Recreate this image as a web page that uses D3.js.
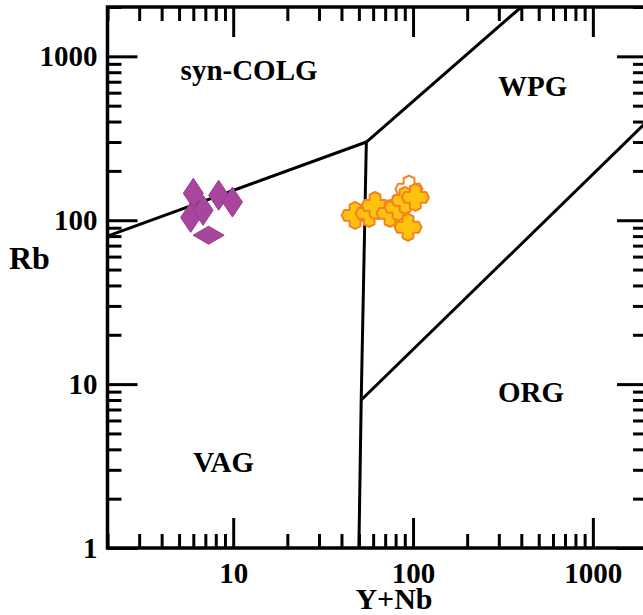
<!DOCTYPE html>
<html>
<head>
<meta charset="utf-8">
<script src="https://cdn.jsdelivr.net/npm/d3@7"></script>
<style>
  html, body { margin: 0; padding: 0; background: #fff; }
  svg { display: block; }
  text { font-family: "Liberation Serif", "Times New Roman", serif; font-weight: bold; fill: #000; }
</style>
</head>
<body>
<svg id="chart" width="643" height="615"></svg>
<script>
// Rb vs (Y+Nb) tectonic discrimination diagram (log-log)

// Axis ranges and tick labels
const xDomain = [2, 2000];
const yDomain = [1, 2000];
const xMajorTicks = [10, 100, 1000];
const yMajorTicks = [1, 10, 100, 1000];
const xTickLabels = ["10", "100", "1000"];
const yTickLabels = ["1", "10", "100", "1000"];

// Field boundaries (Y+Nb, Rb)
const boundaryVagColg = [[2, 80], [55, 300]];
const boundaryColgWpg = [[55, 300], [400, 2000]];
const boundaryVagWpg  = [[55, 300], [51.5, 8], [50, 1]];
const boundaryWpgOrg  = [[51.5, 8], [2000, 400]];

// Field names and anchor points (Y+Nb, Rb) — left end of each label's baseline
const fieldNames = ["syn-COLG", "WPG", "ORG", "VAG"];
const fieldAnchors = [[5.1, 714], [297, 570], [297, 7.8], [6.0, 2.9]];

// Sample group 1 (diamonds)
const groupA_YNb = [6.0, 5.8, 6.8, 8.3, 9.9, 7.3];
const groupA_Rb  = [146, 104, 115, 142, 129, 81];

// Sample group 2 (crosses); the first one is an open (unfilled) symbol
const groupB_YNb = [95, 47.6, 57, 61.5, 74.5, 82.6, 90.3, 103, 93.8];
const groupB_Rb  = [155, 107, 110, 123, 110, 120, 132, 138, 90.6];

const svg = d3.select("#chart");
const plotL = 107.5, plotR = 647, plotT = 7, plotB = 548;

const x = d3.scaleLog().domain(xDomain).range([plotL, plotR]);
const y = d3.scaleLog().domain(yDomain).range([plotB, plotT]);

// minor ticks: 2..9 within each decade
function minorTicks(domain) {
  const out = [];
  for (let e = 0; e <= 3; e++) {
    for (let m = 2; m <= 9; m++) {
      const v = m * Math.pow(10, e);
      if (v >= domain[0] && v <= domain[1]) out.push(v);
    }
  }
  return out;
}
const xMinor = minorTicks(xDomain);
const yMinor = minorTicks(yDomain);

const MAJ = 30, MIN = 14;
const tickStroke = 3;

function styleAxis(g) {
  g.select(".domain").remove();
  g.selectAll(".tick line").attr("stroke", "#000").attr("stroke-width", tickStroke);
  g.selectAll(".tick text")
    .attr("font-family", '"Liberation Serif", "Times New Roman", serif')
    .attr("font-weight", "bold")
    .attr("font-size", 29)
    .attr("fill", "#000");
}

// Bottom axis (ticks point inward)
svg.append("g").attr("transform", `translate(0,${plotB})`)
  .call(d3.axisBottom(x).tickValues(xMinor).tickSizeInner(-MIN).tickSizeOuter(0).tickFormat(""))
  .call(styleAxis);
svg.append("g").attr("transform", `translate(0,${plotB})`)
  .call(d3.axisBottom(x).tickValues(xMajorTicks).tickSizeInner(-MAJ).tickSizeOuter(0)
    .tickPadding(14).tickFormat((d, i) => xTickLabels[i]))
  .call(styleAxis);

// Top axis
svg.append("g").attr("transform", `translate(0,${plotT})`)
  .call(d3.axisTop(x).tickValues(xMinor).tickSizeInner(-MIN).tickSizeOuter(0).tickFormat(""))
  .call(styleAxis);
svg.append("g").attr("transform", `translate(0,${plotT})`)
  .call(d3.axisTop(x).tickValues(xMajorTicks).tickSizeInner(-MAJ).tickSizeOuter(0).tickFormat(""))
  .call(styleAxis);

// Left axis
svg.append("g").attr("transform", `translate(${plotL},0)`)
  .call(d3.axisLeft(y).tickValues(yMinor).tickSizeInner(-MIN).tickSizeOuter(0).tickFormat(""))
  .call(styleAxis);
svg.append("g").attr("transform", `translate(${plotL},0)`)
  .call(d3.axisLeft(y).tickValues(yMajorTicks).tickSizeInner(-MAJ).tickSizeOuter(0)
    .tickPadding(10).tickFormat((d, i) => yTickLabels[i]))
  .call(styleAxis);

// Right axis
svg.append("g").attr("transform", `translate(${plotR},0)`)
  .call(d3.axisRight(y).tickValues(yMinor).tickSizeInner(-MIN).tickSizeOuter(0).tickFormat(""))
  .call(styleAxis);
svg.append("g").attr("transform", `translate(${plotR},0)`)
  .call(d3.axisRight(y).tickValues(yMajorTicks).tickSizeInner(-MAJ).tickSizeOuter(0).tickFormat(""))
  .call(styleAxis);

// Frame
svg.append("rect")
  .attr("x", plotL).attr("y", plotT)
  .attr("width", plotR - plotL).attr("height", plotB - plotT)
  .attr("fill", "none").attr("stroke", "#000").attr("stroke-width", 3.5);

// Boundaries
const line = d3.line().x(d => x(d[0])).y(d => y(d[1]));
svg.append("clipPath").attr("id", "plotclip")
  .append("rect").attr("x", plotL).attr("y", plotT).attr("width", plotR - plotL).attr("height", plotB - plotT);
const lines = svg.append("g").attr("clip-path", "url(#plotclip)");
[boundaryVagColg, boundaryColgWpg, boundaryVagWpg, boundaryWpgOrg].forEach(b => {
  lines.append("path").attr("d", line(b))
    .attr("fill", "none").attr("stroke", "#000").attr("stroke-width", 3)
    .attr("stroke-linejoin", "miter");
});

// Field names
svg.append("g").selectAll("text").data(fieldNames).join("text")
  .attr("x", (d, i) => x(fieldAnchors[i][0]))
  .attr("y", (d, i) => y(fieldAnchors[i][1]))
  .attr("font-size", 29)
  .text(d => d);

// Axis titles
svg.append("text").attr("x", 394).attr("y", 609).attr("text-anchor", "middle")
  .attr("font-size", 30).text("Y+Nb");
svg.append("text").attr("x", 9).attr("y", 269)
  .attr("font-size", 32).text("Rb");

// Diamond markers
const wideDiamond = new Set([5]);
function diamondPath(w, h) {
  return `M0,${-h / 2}L${w / 2},0L0,${h / 2}L${-w / 2},0Z`;
}
svg.append("g").selectAll("path").data(groupA_YNb).join("path")
  .attr("transform", (d, i) => `translate(${x(d)},${y(groupA_Rb[i])})`)
  .attr("d", (d, i) => wideDiamond.has(i) ? diamondPath(31, 18) : diamondPath(20, 30))
  .attr("fill", "#a8469e").attr("stroke", "#963a8d").attr("stroke-width", 1);

// Cross markers: thick plus with bevelled arm ends
function crossPath(s) {
  const a = s / 2, t = s * 0.2, c = s * 0.1;
  return `M${-t},${-a + c}L0,${-a}L${t},${-a + c}L${t},${-t}L${a - c},${-t}L${a},0L${a - c},${t}L${t},${t}` +
         `L${t},${a - c}L0,${a}L${-t},${a - c}L${-t},${t}L${-a + c},${t}L${-a},0L${-a + c},${-t}L${-t},${-t}Z`;
}
const openCross = new Set([0]);
svg.append("g").selectAll("path").data(groupB_YNb).join("path")
  .attr("transform", (d, i) => `translate(${x(d)},${y(groupB_Rb[i])})`)
  .attr("d", crossPath(27))
  .attr("fill", (d, i) => openCross.has(i) ? "#fff" : "#ffc20e")
  .attr("stroke", "#f58220").attr("stroke-width", 2)
  .attr("stroke-linejoin", "round");
</script>
</body>
</html>
